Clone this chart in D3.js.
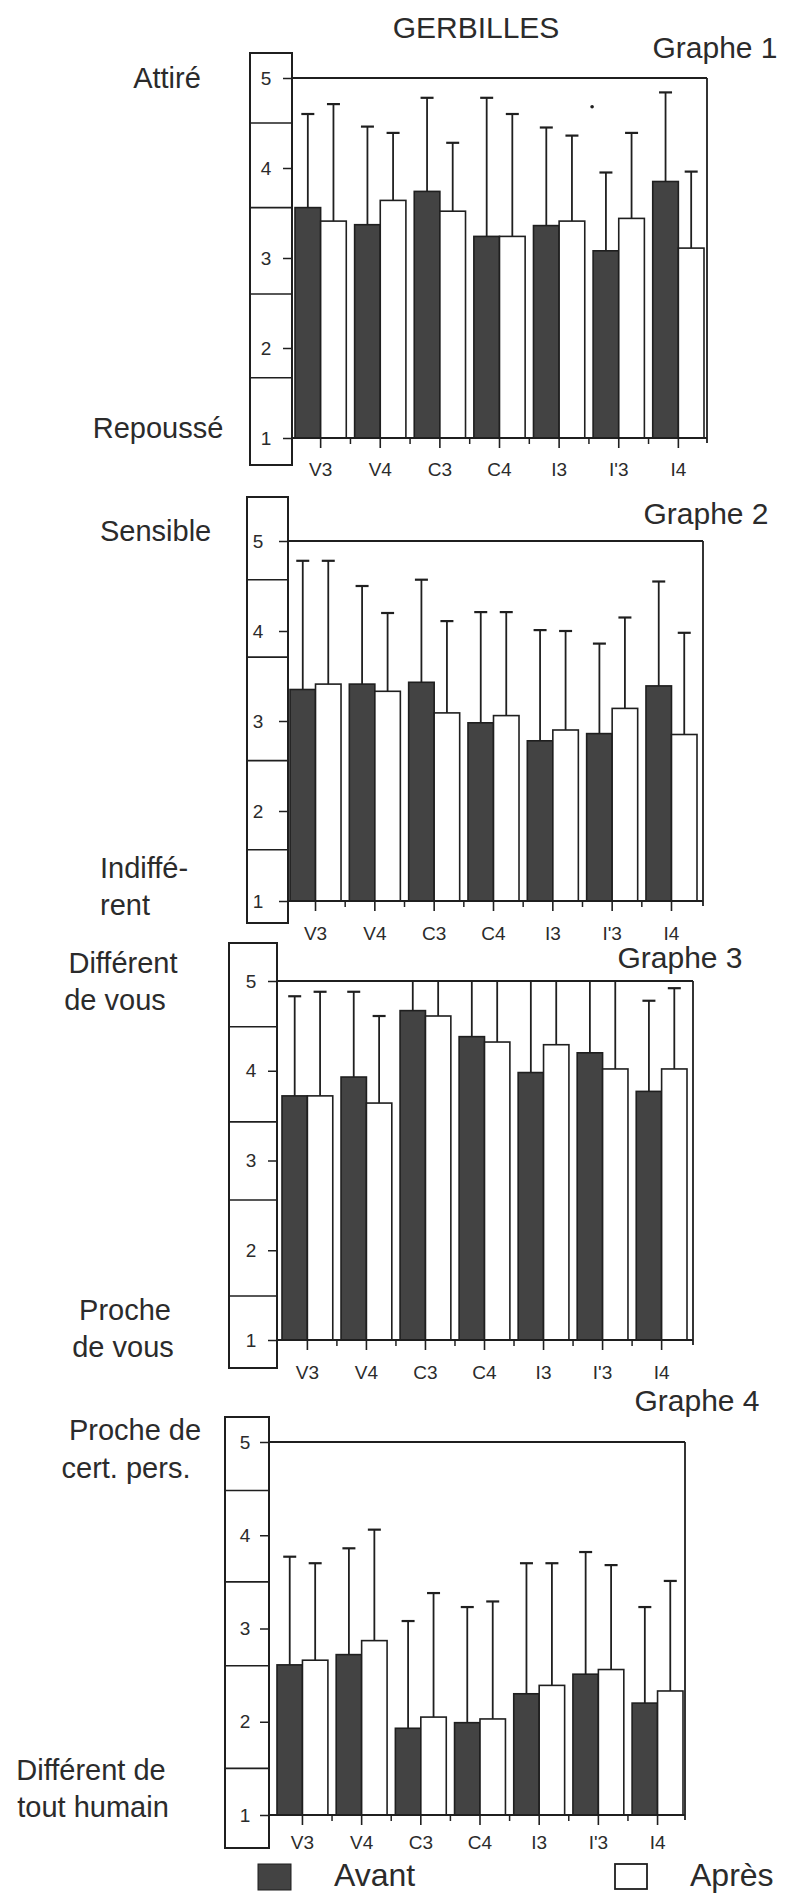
<!DOCTYPE html>
<html><head><meta charset="utf-8">
<script src="https://cdn.jsdelivr.net/npm/d3@7"></script>
<style>
html,body{margin:0;padding:0;background:#fff;}
svg{display:block;}
text{font-family:"Liberation Sans",Arial,Helvetica,sans-serif;fill:#2b2b2b;}
</style>
</head><body>
<svg id="chart" width="792" height="1893"></svg>
<script>
// ---------- DATA ----------
const categories = ["V3", "V4", "C3", "C4", "I3", "I'3", "I4"];
const seriesNames = ["Avant", "Après"];
const yTicks = [1, 2, 3, 4, 5];
const mainTitle = "GERBILLES";
const graphTitles = ["Graphe 1", "Graphe 2", "Graphe 3", "Graphe 4"];
const topLabels = [["Attiré"], ["Sensible"], ["Différent", "de vous"], ["Proche de", "cert. pers."]];
const bottomLabels = [["Repoussé"], ["Indiffé-", "rent"], ["Proche", "de vous"], ["Différent de", "tout humain"]];

// Graphe 1 : Attiré / Repoussé
const g1Avant    = [3.56, 3.37, 3.74, 3.24, 3.36, 3.08, 3.85];
const g1Apres    = [3.41, 3.64, 3.52, 3.24, 3.41, 3.44, 3.11];
const g1AvantErr = [4.60, 4.46, 4.78, 4.78, 4.45, 3.95, 4.84];
const g1ApresErr = [4.71, 4.39, 4.28, 4.60, 4.36, 4.39, 3.96];
// Graphe 2 : Sensible / Indifférent
const g2Avant    = [3.35, 3.41, 3.43, 2.98, 2.78, 2.86, 3.39];
const g2Apres    = [3.41, 3.33, 3.09, 3.06, 2.90, 3.14, 2.85];
const g2AvantErr = [4.78, 4.50, 4.57, 4.21, 4.01, 3.86, 4.55];
const g2ApresErr = [4.78, 4.20, 4.11, 4.21, 4.00, 4.15, 3.98];
// Graphe 3 : Différent de vous / Proche de vous (bars > 5 are cut at the frame)
const g3Avant    = [3.72, 3.93, 4.67, 4.38, 3.98, 4.20, 3.77];
const g3Apres    = [3.72, 3.64, 4.61, 4.32, 4.29, 4.02, 4.02];
const g3AvantErr = [4.83, 4.88, 5.70, 5.50, 5.20, 5.40, 4.78];
const g3ApresErr = [4.88, 4.61, 5.60, 5.40, 5.40, 5.20, 4.92];
// Graphe 4 : Proche de cert. pers. / Différent de tout humain
const g4Avant    = [2.61, 2.72, 1.93, 1.99, 2.30, 2.51, 2.20];
const g4Apres    = [2.66, 2.87, 2.05, 2.03, 2.39, 2.56, 2.33];
const g4AvantErr = [3.77, 3.86, 3.08, 3.23, 3.70, 3.82, 3.23];
const g4ApresErr = [3.70, 4.06, 3.38, 3.29, 3.70, 3.68, 3.51];

// divider lines drawn inside the left scale boxes (scale values)
const boxDividers = [[4.5, 3.56, 2.6, 1.67], [4.57, 3.71, 2.56, 1.57], [4.49, 3.43, 2.56, 1.49], [4.48, 3.5, 2.6, 1.5]];
// small mark printed above I'3 in Graphe 1
const marks = [{graph: 0, cat: "I'3", value: 4.68}];

// ---------- LAYOUT ----------
const graphs = [
  {avant: g1Avant, apres: g1Apres, avantErr: g1AvantErr, apresErr: g1ApresErr},
  {avant: g2Avant, apres: g2Apres, avantErr: g2AvantErr, apresErr: g2ApresErr},
  {avant: g3Avant, apres: g3Apres, avantErr: g3AvantErr, apresErr: g3ApresErr},
  {avant: g4Avant, apres: g4Apres, avantErr: g4AvantErr, apresErr: g4ApresErr}
];
const layout = [
  {axisX: 292, rightX: 707, barL: 295, barR: 704, y5: 78, y1: 438, boxL: 250, boxT: 53, boxB: 465, numX: 266, catY: 469,
   title: [715, 47],
   top: [{x: 167, y: 78, a: "middle"}], bottom: [{x: 158, y: 428, a: "middle"}]},
  {axisX: 288, rightX: 703, barL: 290, barR: 697, y5: 541, y1: 901, boxL: 247, boxT: 497, boxB: 923, numX: 258, catY: 933,
   title: [706, 513],
   top: [{x: 100, y: 531, a: "start"}], bottom: [{x: 100, y: 868, a: "start"}, {x: 100, y: 905, a: "start"}]},
  {axisX: 277, rightX: 693, barL: 282, barR: 687, y5: 981, y1: 1340, boxL: 229, boxT: 943, boxB: 1368, numX: 251, catY: 1372,
   title: [680, 957],
   top: [{x: 123, y: 963, a: "middle"}, {x: 115, y: 1000, a: "middle"}],
   bottom: [{x: 125, y: 1310, a: "middle"}, {x: 123, y: 1347, a: "middle"}]},
  {axisX: 269, rightX: 685, barL: 277, barR: 683, y5: 1442, y1: 1815, boxL: 225, boxT: 1417, boxB: 1848, numX: 245, catY: 1842,
   title: [697, 1400],
   top: [{x: 135, y: 1430, a: "middle"}, {x: 126, y: 1468, a: "middle"}],
   bottom: [{x: 91, y: 1770, a: "middle"}, {x: 93, y: 1807, a: "middle"}]}
];

const INK = "#1f1f1f";
const DARK = "#434343";
const svg = d3.select("#chart");
svg.append("rect").attr("width", 792).attr("height", 1893).attr("fill", "#fff");

svg.append("text").attr("x", 476).attr("y", 27).attr("dy", "0.35em")
  .attr("text-anchor", "middle").style("font-size", "30px").text(mainTitle);

graphs.forEach((g, gi) => {
  const L = layout[gi];
  const G = svg.append("g");
  const y = d3.scaleLinear().domain([1, 5]).range([L.y1, L.y5]);
  const x = d3.scaleBand().domain(categories).range([L.barL, L.barR]).paddingInner(0.14).paddingOuter(0);
  const xs = d3.scaleBand().domain(seriesNames).range([0, x.bandwidth()]);

  // left scale box
  G.append("rect").attr("x", L.boxL).attr("y", L.boxT)
    .attr("width", L.axisX - L.boxL).attr("height", L.boxB - L.boxT)
    .attr("fill", "none").attr("stroke", INK).attr("stroke-width", 2);
  G.selectAll(".div").data(boxDividers[gi]).enter().append("line")
    .attr("x1", L.boxL).attr("x2", L.axisX)
    .attr("y1", d => y(d)).attr("y2", d => y(d))
    .attr("stroke", INK).attr("stroke-width", 1.6);

  // frame: top line at 5, right side
  G.append("line").attr("x1", L.axisX).attr("x2", L.rightX).attr("y1", y(5)).attr("y2", y(5))
    .attr("stroke", INK).attr("stroke-width", 1.8);
  G.append("line").attr("x1", L.rightX).attr("x2", L.rightX).attr("y1", y(5)).attr("y2", y(1) + 5)
    .attr("stroke", INK).attr("stroke-width", 1.8);

  // y axis (ticks + numbers)
  const yAxis = G.append("g").attr("transform", `translate(${L.axisX},0)`)
    .call(d3.axisLeft(y).tickValues(yTicks).tickSize(9).tickFormat(d3.format("d")));
  yAxis.select(".domain").remove();
  yAxis.selectAll(".tick line").attr("stroke", INK).attr("stroke-width", 1.5);
  yAxis.selectAll(".tick text").attr("x", L.numX - L.axisX).attr("text-anchor", "middle")
    .style("font-size", "19px").style("font-family", "'Liberation Sans',Arial,sans-serif").attr("fill", "#2b2b2b");

  // bars
  const rows = categories.map((c, i) => [
    {cat: c, s: "Avant", v: g.avant[i], e: g.avantErr[i]},
    {cat: c, s: "Après", v: g.apres[i], e: g.apresErr[i]}
  ]).flat();

  G.selectAll(".bar").data(rows).enter().append("rect")
    .attr("x", d => x(d.cat) + xs(d.s))
    .attr("y", d => y(d.v))
    .attr("width", xs.bandwidth())
    .attr("height", d => y(1) - y(d.v))
    .attr("fill", d => d.s === "Avant" ? DARK : "#fff")
    .attr("stroke", INK).attr("stroke-width", 1.6);

  // error bars (clipped at the top frame)
  const ebar = G.selectAll(".eb").data(rows).enter().append("g");
  ebar.append("line")
    .attr("x1", d => x(d.cat) + xs(d.s) + xs.bandwidth() / 2)
    .attr("x2", d => x(d.cat) + xs(d.s) + xs.bandwidth() / 2)
    .attr("y1", d => y(d.v))
    .attr("y2", d => y(Math.min(d.e, 5)))
    .attr("stroke", INK).attr("stroke-width", 1.8);
  ebar.filter(d => d.e < 5).append("line")
    .attr("x1", d => x(d.cat) + xs(d.s) + xs.bandwidth() / 2 - 6.5)
    .attr("x2", d => x(d.cat) + xs(d.s) + xs.bandwidth() / 2 + 6.5)
    .attr("y1", d => y(d.e)).attr("y2", d => y(d.e))
    .attr("stroke", INK).attr("stroke-width", 2.2);

  // bottom axis
  G.append("line").attr("x1", L.axisX).attr("x2", L.rightX).attr("y1", y(1)).attr("y2", y(1))
    .attr("stroke", INK).attr("stroke-width", 1.8);
  const xAxis = G.append("g").attr("transform", `translate(0,${y(1)})`)
    .call(d3.axisBottom(x).tickSize(10));
  xAxis.select(".domain").remove();
  xAxis.selectAll(".tick line").attr("stroke", INK).attr("stroke-width", 1.6);
  xAxis.selectAll(".tick text").attr("y", L.catY - y(1)).attr("dy", "0.35em")
    .style("font-size", "19px").style("font-family", "'Liberation Sans',Arial,sans-serif").attr("fill", "#2b2b2b");
  // minor ticks between groups
  const step = x.step();
  G.selectAll(".minor").data(categories.slice(0, -1)).enter().append("line")
    .attr("x1", d => x(d) + x.bandwidth() + (step - x.bandwidth()) / 2)
    .attr("x2", d => x(d) + x.bandwidth() + (step - x.bandwidth()) / 2)
    .attr("y1", y(1)).attr("y2", y(1) + 6)
    .attr("stroke", INK).attr("stroke-width", 1.5);

  // marks
  marks.filter(m => m.graph === gi).forEach(m => {
    G.append("circle").attr("cx", x(m.cat) - 1).attr("cy", y(m.value))
      .attr("r", 1.8).attr("fill", INK);
  });

  // graph title
  G.append("text").attr("x", L.title[0]).attr("y", L.title[1]).attr("dy", "0.35em")
    .attr("text-anchor", "middle").style("font-size", "30px").text(graphTitles[gi]);

  // pole labels
  topLabels[gi].forEach((t, k) => {
    const p = L.top[k];
    G.append("text").attr("x", p.x).attr("y", p.y).attr("dy", "0.35em")
      .attr("text-anchor", p.a).style("font-size", "29px").text(t);
  });
  bottomLabels[gi].forEach((t, k) => {
    const p = L.bottom[k];
    G.append("text").attr("x", p.x).attr("y", p.y).attr("dy", "0.35em")
      .attr("text-anchor", p.a).style("font-size", "29px").text(t);
  });
});

// legend
const legend = svg.append("g");
legend.append("rect").attr("x", 258).attr("y", 1864).attr("width", 33).attr("height", 26)
  .attr("fill", DARK).attr("stroke", INK).attr("stroke-width", 1);
legend.append("text").attr("x", 334).attr("y", 1886).style("font-size", "32px").text(seriesNames[0]);
legend.append("rect").attr("x", 615).attr("y", 1864).attr("width", 32).attr("height", 25)
  .attr("fill", "#fff").attr("stroke", INK).attr("stroke-width", 1.8);
legend.append("text").attr("x", 690).attr("y", 1886).style("font-size", "32px").text(seriesNames[1]);
</script>
</body></html>
